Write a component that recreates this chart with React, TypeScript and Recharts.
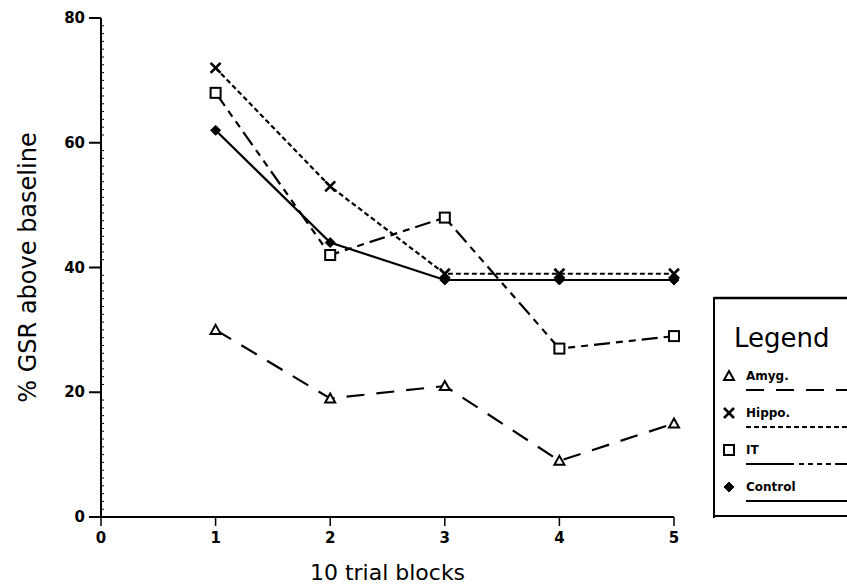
import React from "react";
import { LineChart, Line, XAxis, YAxis } from "recharts";

const blocks = [1, 2, 3, 4, 5];
const amyg = [30, 19, 21, 9, 15];
const hippo = [72, 53, 39, 39, 39];
const it = [68, 42, 48, 27, 29];
const control = [62, 44, 38, 38, 38];

const xTicks = [0, 1, 2, 3, 4, 5];
const yMajor = [0, 20, 40, 60, 80];
const yMinor = Array.from({ length: 64 }, (_, i) => (i + 1) * 1.25).filter(
  (v) => v % 20 !== 0
);

const data = blocks.map((b, i) => ({
  block: b,
  amyg: amyg[i],
  hippo: hippo[i],
  it: it[i],
  control: control[i],
}));

const FONT = "'DejaVu Sans', sans-serif";

const Triangle = (p: any) => {
  const { cx, cy } = p;
  return (
    <path
      d={`M${cx},${cy - 5} L${cx + 5},${cy + 4} L${cx - 5},${cy + 4} Z`}
      fill="#fff"
      stroke="#000"
      strokeWidth={2}
    />
  );
};

const Cross = (p: any) => {
  const { cx, cy } = p;
  return (
    <path
      d={`M${cx - 5},${cy - 5} L${cx + 5},${cy + 5} M${cx + 5},${cy - 5} L${cx - 5},${cy + 5}`}
      stroke="#000"
      strokeWidth={2.6}
    />
  );
};

const Square = (p: any) => {
  const { cx, cy } = p;
  return (
    <rect x={cx - 5} y={cy - 5} width={10} height={10} fill="#fff" stroke="#000" strokeWidth={2} />
  );
};

const Diamond = (p: any) => {
  const { cx, cy } = p;
  return (
    <path
      d={`M${cx},${cy - 5} L${cx + 5},${cy} L${cx},${cy + 5} L${cx - 5},${cy} Z`}
      fill="#000"
      stroke="#000"
      strokeWidth={1}
    />
  );
};

const YTick = (props: any) => {
  const { x, y, payload } = props;
  const v = payload.value;
  if (yMajor.includes(v)) {
    return (
      <g>
        <line x1={x - 12} x2={x} y1={y} y2={y} stroke="#000" strokeWidth={2} />
        <text
          x={x - 16}
          y={y}
          dy={5}
          textAnchor="end"
          fontFamily={FONT}
          fontWeight="bold"
          fontSize={15}
          fill="#000"
        >
          {v}
        </text>
      </g>
    );
  }
  return <line x1={x} x2={x + 3} y1={y} y2={y} stroke="#000" strokeWidth={1} />;
};

const XTick = (props: any) => {
  const { x, y, payload } = props;
  return (
    <g>
      <line x1={x} x2={x} y1={y} y2={y + 9} stroke="#000" strokeWidth={1.5} />
      <text
        x={x}
        y={y + 26}
        textAnchor="middle"
        fontFamily={FONT}
        fontWeight="bold"
        fontSize={15}
        fill="#000"
      >
        {payload.value}
      </text>
    </g>
  );
};

const YLabel = (props: any) => {
  const { viewBox } = props;
  const cx = viewBox.x + 28;
  const cy = viewBox.y + viewBox.height / 2;
  return (
    <text
      x={cx}
      y={cy}
      transform={`rotate(-90 ${cx} ${cy})`}
      textAnchor="middle"
      dominantBaseline="central"
      fontFamily={FONT}
      fontSize={24}
      fill="#000"
    >
      % GSR above baseline
    </text>
  );
};

const XLabel = (props: any) => {
  const { viewBox } = props;
  const cx = viewBox.x + viewBox.width / 2;
  return (
    <text
      x={cx}
      y={580}
      textAnchor="middle"
      fontFamily={FONT}
      fontSize={22}
      fill="#000"
    >
      10 trial blocks
    </text>
  );
};

const legendItems = [
  { name: "Amyg.", dash: "18 12", mark: "tri" },
  { name: "Hippo.", dash: "5 3", mark: "x" },
  { name: "IT", dash: "48 5 5 4 5 4 5 4 5 4", mark: "sq" },
  { name: "Control", dash: "", mark: "dia" },
];

const LegendBox = () => (
  <svg
    width={134}
    height={222}
    style={{ position: "absolute", left: 713, top: 296 }}
  >
    <line x1={1} x2={134} y1={2} y2={2} stroke="#000" strokeWidth={2.5} />
    <line x1={1} x2={1} y1={1} y2={222} stroke="#000" strokeWidth={2} />
    <line x1={1} x2={134} y1={220} y2={220} stroke="#000" strokeWidth={2} />
    <text x={21} y={51} fontFamily={FONT} fontSize={26} fill="#000">
      Legend
    </text>
    {legendItems.map((it, i) => {
      const ty = 84 + i * 37;
      const mx = 16;
      const my = ty - 4;
      let mark: React.ReactNode = null;
      if (it.mark === "tri") mark = <Triangle cx={mx} cy={my} />;
      if (it.mark === "x") mark = <Cross cx={mx} cy={my} />;
      if (it.mark === "sq") mark = <Square cx={mx} cy={my} />;
      if (it.mark === "dia") mark = <Diamond cx={mx} cy={my} />;
      return (
        <g key={it.name}>
          {mark}
          <text x={33} y={ty} fontFamily={FONT} fontWeight="bold" fontSize={12} fill="#000">
            {it.name}
          </text>
          <line
            x1={33}
            x2={134}
            y1={ty + 10}
            y2={ty + 10}
            stroke="#000"
            strokeWidth={2.2}
            strokeDasharray={it.dash || undefined}
          />
        </g>
      );
    })}
  </svg>
);

export default function App() {
  return (
    <div style={{ position: "absolute", left: 0, top: 0, width: 847, height: 586, background: "#fff" }}>
      <LineChart
        width={847}
        height={586}
        data={data}
        margin={{ top: 18, right: 173, bottom: 0, left: 0 }}
      >
        <XAxis
          dataKey="block"
          type="number"
          domain={[0, 5]}
          ticks={xTicks}
          tick={<XTick />}
          tickLine={false}
          tickSize={0}
          tickMargin={0}
          height={69}
          axisLine={{ stroke: "#000", strokeWidth: 2 }}
          label={<XLabel />}
        />
        <YAxis
          type="number"
          domain={[0, 80]}
          ticks={[...yMajor, ...yMinor].sort((a, b) => a - b)}
          tick={<YTick />}
          tickLine={false}
          tickSize={0}
          tickMargin={0}
          width={101}
          interval={0}
          axisLine={{ stroke: "#000", strokeWidth: 2 }}
          label={<YLabel />}
        />
        <Line
          dataKey="amyg"
          stroke="#000"
          strokeWidth={2.2}
          strokeDasharray="18 12"
          dot={<Triangle />}
          isAnimationActive={false}
        />
        <Line
          dataKey="hippo"
          stroke="#000"
          strokeWidth={2.2}
          strokeDasharray="5 3"
          dot={<Cross />}
          isAnimationActive={false}
        />
        <Line
          dataKey="it"
          stroke="#000"
          strokeWidth={2.2}
          strokeDasharray="16 6 7 6 7 6"
          dot={<Square />}
          isAnimationActive={false}
        />
        <Line
          dataKey="control"
          stroke="#000"
          strokeWidth={2.2}
          dot={<Diamond />}
          isAnimationActive={false}
        />
      </LineChart>
      <LegendBox />
    </div>
  );
}
